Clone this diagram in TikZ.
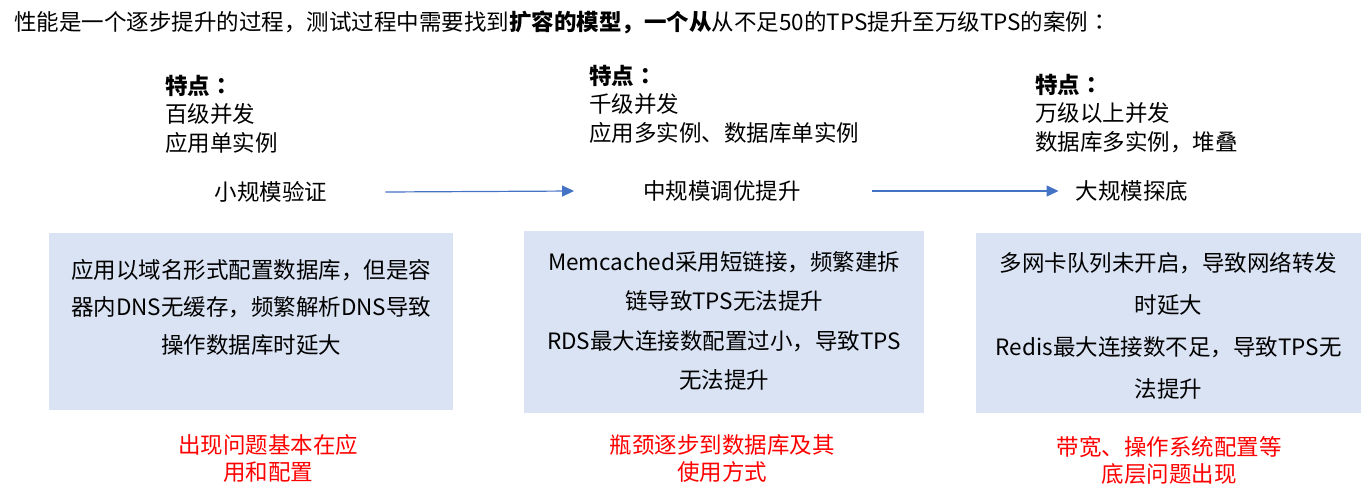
\documentclass[tikz,border=0pt]{standalone}
\usepackage{fontspec}
\setmainfont{Noto Sans CJK SC}
\newfontfamily\colonfont{Noto Sans CJK JP}
\newcommand{\zcolon}{{\colonfont ：}}
\usetikzlibrary{arrows.meta}
\definecolor{boxblue}{HTML}{DAE3F3}
\definecolor{arrowblue}{HTML}{4472C4}
\definecolor{redtext}{HTML}{FF0000}
\tikzset{
  txt/.style={inner sep=0pt, font=\fontsize{22.5}{28.5}\selectfont},
  feat/.style={txt, align=left, anchor=north west},
  stage/.style={txt},
  panel/.style={fill=boxblue, draw=none, inner sep=0pt, anchor=north west},
  paneltext/.style={txt, align=center, anchor=north},
  note/.style={inner sep=0pt, align=center, anchor=north, text=redtext, font=\fontsize{22.5}{27}\selectfont},
  flow/.style={draw=arrowblue, line width=1.2pt, -{Triangle[length=12pt,width=11pt]}},
}
\begin{document}
\begin{tikzpicture}[x=1pt,y=-1pt]
\useasboundingbox (0,0) rectangle (1361,501);

\node[txt, anchor=north west] (title) at (14,11)
  {性能是一个逐步提升的过程，测试过程中需要找到\textbf{扩容的模型，一个从}从不足50的TPS提升至万级TPS的案例\zcolon};

\node[feat] (f1) at (165,75) {\textbf{特点\zcolon}\\百级并发\\应用单实例};
\node[feat] (f2) at (589,65) {\textbf{特点\zcolon}\\千级并发\\应用多实例、数据库单实例};
\node[feat] (f3) at (1035,74) {\textbf{特点\zcolon}\\万级以上并发\\数据库多实例，堆叠};

\node[stage] (s1) at (271,192) {小规模验证};
\node[stage] (s2) at (722,191) {中规模调优提升};
\node[stage] (s3) at (1132,191) {大规模探底};

\draw[flow] ([xshift=58pt]s1.east) -- ([xshift=-69pt]s2.west);
\draw[flow] ([xshift=71pt]s2.east) -- ([xshift=-17pt]s3.west);

\node[panel, minimum width=404pt, minimum height=177pt] (b1) at (49,233) {};
\node[panel, minimum width=400pt, minimum height=182pt] (b2) at (524,231) {};
\node[panel, minimum width=385pt, minimum height=180pt] (b3) at (976,233) {};

\node[paneltext, font=\fontsize{22.5}{37.5}\selectfont] (t1) at ([yshift=-26pt]b1.north)
  {应用以域名形式配置数据库，但是容\\器内DNS无缓存，频繁解析DNS导致\\操作数据库时延大};
\node[paneltext, font=\fontsize{22.5}{39.5}\selectfont] (t2) at ([yshift=-20pt]b2.north)
  {Memcached采用短链接，频繁建拆\\链导致TPS无法提升\\RDS最大连接数配置过小，导致TPS\\无法提升};
\node[paneltext, font=\fontsize{22.5}{42}\selectfont] (t3) at ([yshift=-19pt]b3.north)
  {多网卡队列未开启，导致网络转发\\时延大\\Redis最大连接数不足，导致TPS无\\法提升};

\node[note] (n1) at (268,434) {出现问题基本在应\\用和配置};
\node[note] (n2) at (722,434) {瓶颈逐步到数据库及其\\使用方式};
\node[note] (n3) at (1169,436) {带宽、操作系统配置等\\底层问题出现};
\end{tikzpicture}
\end{document}
